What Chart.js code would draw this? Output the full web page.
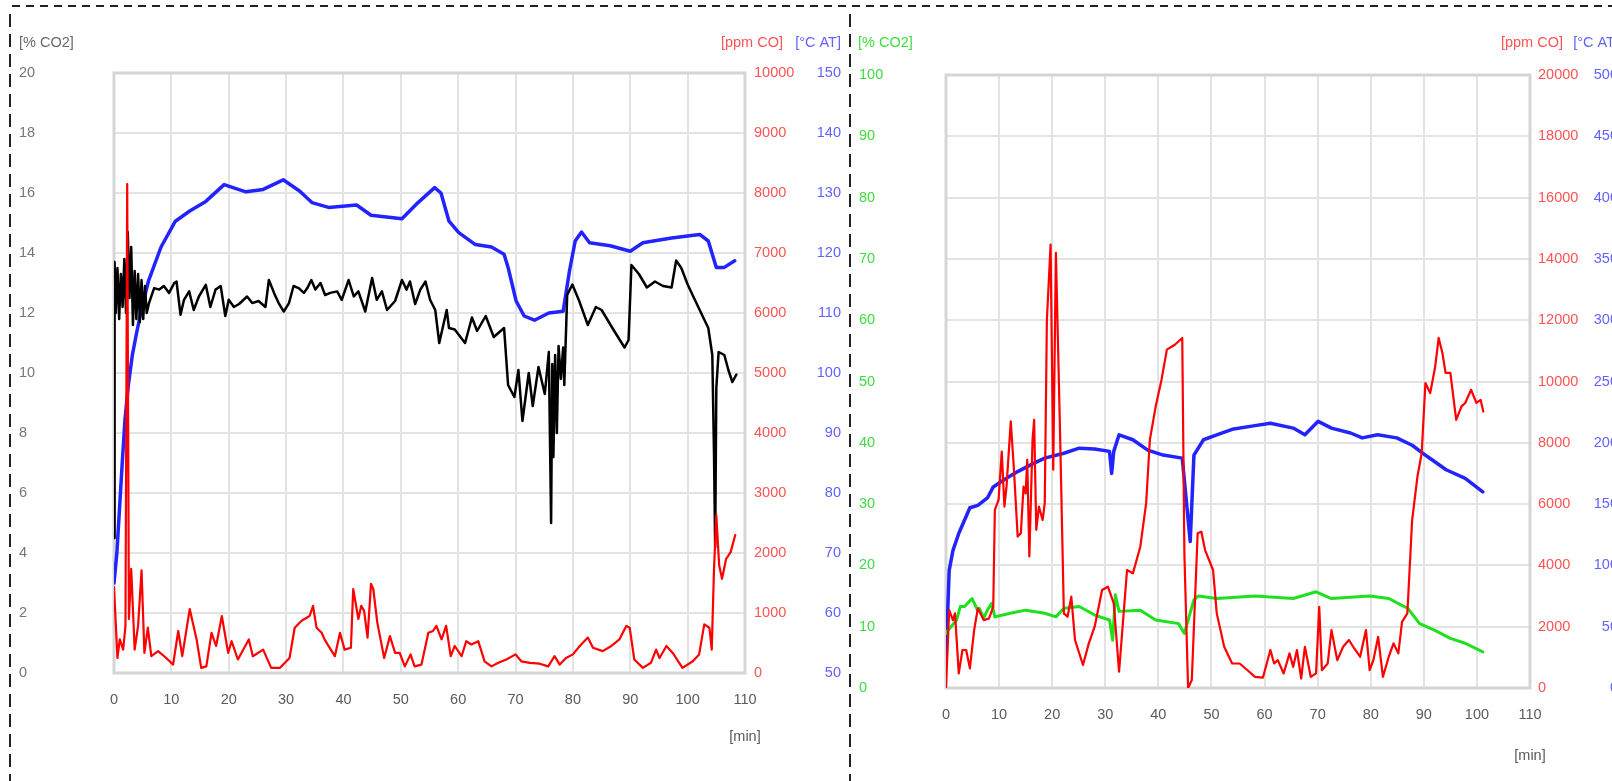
<!DOCTYPE html>
<html>
<head>
<meta charset="utf-8">
<title>CO2 / CO / AT</title>
<script src="https://cdn.jsdelivr.net/npm/chart.js@4.4.0/dist/chart.umd.min.js"></script>
<style>
  html, body { margin: 0; padding: 0; background: #fff; overflow: hidden; }
  body { width: 1612px; height: 781px; position: relative; }
  canvas { position: absolute; }
  #leftChart { left: 14px; top: 10px; }
  #rightChart { left: 852px; top: 10px; }
  .dash-h {
    position: absolute; left: 12px; top: 5px; width: 1600px; height: 2px;
    background: repeating-linear-gradient(to right, #222 0 8px, transparent 8px 14px);
  }
  .dash-v {
    position: absolute; top: 14px; width: 2px; height: 767px;
    background: repeating-linear-gradient(to bottom, #222 0 13px, transparent 13px 20px);
  }
</style>
</head>
<body>
<div class="dash-h"></div>
<div class="dash-v" style="left:9px"></div>
<div class="dash-v" style="left:849px"></div>
<canvas id="leftChart" width="834" height="771"></canvas>
<canvas id="rightChart" width="780" height="771"></canvas>
<script>
// ---- left unit: % CO2 (black), ppm CO (red), degC AT (blue) ----
const leftCO2Min = [0, 0.1, 0.3, 0.6, 0.9, 1.2, 1.5, 1.8, 2.1, 2.4, 2.7, 3.0, 3.3, 3.6, 3.9, 4.2, 4.5, 4.8, 5.1, 5.4, 5.7,
  6.1, 7, 7.9, 8.7, 9.6, 10.5, 10.9, 11.6, 12.2, 13.1, 13.9, 14.8, 16, 16.8, 17.7, 18.6, 19.4, 20, 20.9, 21.8,
  23.2, 24.1, 25.2, 26.4, 27, 27.9, 28.7, 29.6, 30.5, 31.3, 32.2, 33.1, 33.7, 34.4, 35.1, 36, 36.8, 37.7, 38.9, 39.7,
  40.9, 41.8, 42.6, 43.8, 45, 45.8, 46.7, 47.6, 49, 50.2, 51, 51.6, 52.5, 53.4, 54.3, 55.1, 56,
  56.7, 58, 58.4, 59.4, 61.2, 62.4, 63.3, 64.8, 66.2, 68, 68.7, 69.8, 70.5, 71.2, 72.3, 73, 74, 75.1, 75.8, 76.2,
  76.4, 76.6, 76.9, 77.2, 77.5, 77.9, 78.3, 78.5, 79, 79.9, 81.1, 82.6, 84, 85, 87.2, 89, 89.7, 90.2, 91.5, 92.9,
  94.3, 95.7, 97.2, 98, 98.9, 100, 102.1, 103.6, 104.3, 104.6, 104.8, 105, 105.4, 106.4, 107.1, 107.8, 108.5];
const leftCO2 = [4.5, 13.7, 12.0, 13.5, 11.8, 13.3, 12.2, 13.8, 12.0, 14.7, 12.5, 14.2, 11.6, 13.4, 11.8, 13.3, 11.7, 13.1, 11.8, 12.9, 12.0,
  12.33, 12.83, 12.78, 12.9, 12.67, 13.0, 13.05, 11.94, 12.44, 12.72, 12.1, 12.55, 12.94, 12.2, 12.78, 12.9, 11.9, 12.44, 12.2, 12.3,
  12.55, 12.33, 12.4, 12.2, 13.1, 12.67, 12.33, 12.05, 12.33, 12.9, 12.83, 12.67, 12.83, 13.1, 12.78, 13.0, 12.6, 12.67, 12.72, 12.44,
  13.1, 12.55, 12.72, 12.05, 13.17, 12.44, 12.72, 12.1, 12.4, 13.1, 12.78, 13.05, 12.3, 12.78, 13.05, 12.44, 12.1,
  11.0, 12.1, 11.5, 11.45, 11.0, 11.85, 11.4, 11.9, 11.2, 11.5, 9.6, 9.2, 10.1, 8.4, 10.0, 8.9, 10.2, 9.3, 10.7, 5.0,
  10.3, 7.2, 10.6, 8.0, 10.9, 9.8, 10.85, 9.6, 12.6, 12.95, 12.4, 11.6, 12.2, 12.1, 11.4, 10.85, 11.1, 13.6, 13.3, 12.85,
  13.05, 12.9, 12.85, 13.75, 13.5, 12.95, 12.1, 11.5, 10.6, 7.3, 4.2, 9.5, 10.7, 10.6, 10.1, 9.7, 9.95];

const leftCOMin = [0, 0.6, 1.0, 1.6, 2.0, 2.3, 2.6, 3.0, 3.6, 4.2, 4.8, 5.3, 5.9, 6.5, 7.7, 9.1, 10.3, 11.2, 11.9, 13.2,
  14.4, 15.2, 16.1, 17, 17.8, 18.8, 19.9, 20.5, 21.6, 23.5, 24.2, 26, 27.4, 28.9, 30.6, 31.5, 32.7, 34.1, 34.7, 35.3,
  36.2, 36.7, 37.6, 38.5, 39.4, 40.2, 41.3, 41.7, 42.6, 43.1, 43.6, 44.2, 44.8, 45.2, 45.9, 47.1, 48.1, 49, 49.8, 50.7,
  51.7, 52.4, 53.6, 54.8, 55.6, 56.2, 57.1, 57.9, 58.7, 59.4, 60.6, 61.4, 62.3, 63.5, 64.6, 65.8, 67, 68.4, 70, 71,
  72.5, 74.2, 75.7, 76.8, 77.7, 78.8, 80, 81.2, 82.6, 83.5, 85.2, 86.7, 88.1, 89.3, 89.9, 90.7, 92.2, 93.6, 94.5, 95.1,
  96.3, 97.4, 99.1, 100.9, 102, 102.9, 103.8, 104.2, 104.6, 105, 105.5, 106, 106.7, 107.5, 108.3];
const leftCO = [1430, 250, 560, 390, 785, 8150, 900, 1735, 390, 785, 1710, 335, 755, 280, 365, 250, 140, 700, 280, 1065,
  560, 85, 110, 670, 450, 950, 335, 530, 225, 560, 280, 390, 85, 85, 250, 755, 870, 950, 1120, 755,
  670, 560, 420, 280, 670, 390, 420, 1400, 900, 1120, 1035, 590, 1485, 1400, 840, 250, 615, 335, 335, 110,
  310, 110, 140, 670, 700, 785, 560, 785, 280, 450, 280, 530, 475, 530, 195, 110, 170, 225, 310, 195,
  170, 155, 110, 280, 140, 250, 310, 450, 590, 420, 365, 450, 560, 785, 755, 225, 85, 170, 390, 250,
  450, 335, 85, 195, 310, 810, 755, 390, 1735, 2630, 1790, 1570, 1900, 2015, 2300];

const leftATMin = [0, 0.5, 1.0, 1.5, 1.9, 2.5, 3.2, 3.9, 5, 6, 8.2, 10.7, 13.2, 16, 19.2, 21, 23, 26, 29.5, 32.4, 34.5,
  37.4, 42.3, 44.8, 50.2, 53, 55.9, 57, 58.4, 60.1, 63, 65.8, 68, 68.7, 70.1, 71.5, 73.3, 75.8, 78.3, 79.4, 80.4,
  81.5, 82.9, 86.5, 90, 92.2, 97.2, 102.1, 103.6, 105, 106.4, 108.2];
const leftAT = [65, 70, 78, 86, 92, 98, 103, 106.5, 111.5, 115.3, 121, 125.3, 127, 128.6, 131.4, 130.8, 130.2, 130.6, 132.2, 130.3, 128.4,
  127.6, 128, 126.3, 125.7, 128.4, 130.9, 130, 125.3, 123.4, 121.4, 121, 119.8, 117.6, 112, 109.5, 108.8, 110, 110.3, 117, 122,
  123.5, 121.7, 121.2, 120.3, 121.7, 122.5, 123.1, 122, 117.6, 117.6, 118.7];

// ---- right unit: % CO2 (green), ppm CO (red), degC AT (blue) ----
const rightCO2Min = [0, 0.2, 2, 2.7, 3.5, 4.9, 5.9, 6.3, 7.1, 7.8, 8.6, 9.2, 12.1, 15, 18.6, 20.7, 22.2, 25.1, 28, 30.8, 31.4,
  31.9, 32.6, 36.6, 39.5, 43.8, 44.9, 46.7, 47.5, 51, 58.2, 65.4, 69.7, 72.6, 79.8, 83.4, 85.6, 87, 89.2, 92.1, 95,
  97.8, 101.1];
const rightCO2 = [8.9, 9.2, 11.1, 13.3, 13.3, 14.6, 12.8, 13, 11.4, 12.7, 13.8, 11.6, 12.2, 12.7, 12.2, 11.6, 13, 13.3, 11.9, 11.1, 7.8,
  15.2, 12.5, 12.7, 11.1, 10.5, 8.9, 14.4, 15, 14.6, 15, 14.6, 15.7, 14.6, 15, 14.6, 13.6, 13, 10.5, 9.4, 8.1,
  7.3, 5.9];

const rightCOMin = [0, 0.6, 1.3, 1.7, 2.4, 3.1, 3.8, 4.5, 5.3, 6, 7.1, 8.1, 8.9, 9.2, 9.9, 10.5, 11, 11.4, 12.2, 12.8,
  13.5, 14.1, 14.6, 15, 15.3, 15.7, 16.3, 16.6, 17, 17.5, 18.2, 18.6, 19, 19.7, 20.2, 20.7, 21.5, 22.2, 22.9, 23.6,
  24.3, 25.8, 26.9, 28, 29.4, 30.5, 31.6, 32.6, 34.1, 35.2, 36.6, 37.7, 38.4, 39.5, 40.6, 41.6, 43.1, 44.5, 44.9, 45.6,
  46.3, 47.4, 48.1, 48.8, 50.3, 51, 52.4, 53.9, 55.3, 56.8, 58.2, 59.7, 61.1, 61.8, 62.5, 63.6, 64.7, 65.4, 66.1, 66.9,
  67.6, 68.7, 69.7, 70.3, 70.8, 71.9, 72.6, 73.7, 74.8, 75.9, 76.9, 78, 79.1, 79.8, 80.5, 81.4, 82.3, 83.4, 84.3, 85.2,
  85.9, 86.9, 87.8, 88.8, 89.6, 90.3, 91.2, 92.1, 92.8, 93.5, 94.1, 95, 96.1, 97.1, 97.8, 98.9, 99.9, 100.7, 101.2];
const rightCO = [0, 2540, 2215, 2435, 475, 1240, 1240, 640, 1890, 2600, 2215, 2270, 2650, 5810, 6140, 7715, 5920, 6570, 8700, 7120,
  4940, 5050, 6570, 6350, 7445, 4290, 8100, 8750, 5160, 5920, 5480, 6030, 12000, 14470, 7120, 14200, 8200, 2435, 2325, 2980,
  1565, 750, 1455, 2000, 3200, 3305, 2760, 530, 3850, 3740, 4610, 6030, 8100, 9190, 10060, 11040, 11200, 11420, 4400, 0,
  260, 5050, 5100, 4500, 3850, 2435, 1345, 800, 800, 580, 365, 340, 1240, 800, 910, 475, 1130, 690, 1240, 310,
  1345, 365, 475, 2650, 580, 800, 1890, 910, 1345, 1565, 1290, 1020, 1890, 580, 910, 1670, 365, 1020, 1455, 1130,
  2160, 2435, 5480, 6900, 7660, 9950, 9620, 10440, 11420, 10930, 10280, 10280, 8750, 9190, 9300, 9730, 9300, 9400, 9020];

const rightATMin = [0, 0.6, 1.3, 2.4, 4.5, 6, 7.8, 8.9, 11, 13.5, 16.4, 18.6, 22.2, 25.1, 28, 30.8, 31.2, 31.6, 32.6, 35.2,
  38, 40.9, 44.5, 46, 46.7, 48.5, 51, 53.9, 58.2, 61.1, 65.4, 67.6, 70.1, 72.6, 76.2, 78.4, 81.3, 84.9, 87.8, 90.6,
  94.2, 97.8, 101.1];
const rightAT = [24, 96, 112, 126, 147, 149, 155, 164, 170, 176.5, 183, 187.5, 191.5, 195.6, 195, 193, 175, 193, 206.5, 202.5,
  194, 190, 187.5, 119.5, 190, 202.5, 206.5, 211, 214, 216, 212, 206.5, 217.5, 212, 208, 204, 206.5, 204, 198, 189,
  178, 171, 160];

const FONT = "'Liberation Sans', Arial, sans-serif";
Chart.defaults.font.family = FONT;
Chart.defaults.font.size = 14.5;

const plain = v => String(v);
const series = (mins, vals) => mins.map((m, i) => ({ x: m, y: vals[i] }));

// light frame round the plot area
const plotFrame = {
  id: 'plotFrame',
  beforeDatasetsDraw(chart) {
    const { ctx, chartArea: a } = chart;
    ctx.save();
    ctx.strokeStyle = '#d5d5d5';
    ctx.lineWidth = 3;
    ctx.strokeRect(a.left, a.top, a.right - a.left, a.bottom - a.top);
    ctx.restore();
  }
};

// unit captions above the axes and [min] under the x axis
const unitLabels = {
  id: 'unitLabels',
  afterDraw(chart, args, opts) {
    const { ctx, chartArea: a } = chart;
    ctx.save();
    ctx.font = '14.5px ' + FONT;
    ctx.textBaseline = 'middle';
    opts.items.forEach(it => {
      const s = chart.scales[it.axis];
      ctx.fillStyle = it.color;
      ctx.textAlign = it.align;
      ctx.fillText(it.text, s[it.from] + it.dx, opts.top);
    });
    ctx.fillStyle = '#5a5a5a';
    ctx.textAlign = 'center';
    ctx.fillText('[min]', a.right, a.bottom + opts.minGap);
    ctx.restore();
  }
};

function xAxis(height) {
  return {
    type: 'linear', min: 0, max: 110,
    ticks: { stepSize: 10, color: '#5a5a5a', padding: 18, maxRotation: 0, autoSkip: false, callback: plain },
    grid: { color: '#e3e3e3', lineWidth: 2, drawTicks: false },
    border: { display: false },
    afterFit: s => { s.height = height; }
  };
}

function yAxis(position, min, max, step, color, align, pad, width, grid) {
  return {
    position, min, max,
    ticks: { stepSize: step, color, crossAlign: align, padding: pad, autoSkip: false, callback: plain },
    grid: grid ? { color: '#e3e3e3', lineWidth: 2, drawTicks: false } : { display: false, drawTicks: false },
    border: { display: false },
    afterFit: s => { s.width = width; }
  };
}

const lineOpts = { pointRadius: 0, tension: 0, borderJoinStyle: 'round', borderCapStyle: 'round', fill: false };

new Chart(document.getElementById('leftChart'), {
  type: 'line',
  data: {
    datasets: [
      { ...lineOpts, label: 'ppm CO', data: series(leftCOMin, leftCO), yAxisID: 'yCO', borderColor: '#ff0000', borderWidth: 2.2, order: 1 },
      { ...lineOpts, label: '% CO2', data: series(leftCO2Min, leftCO2), yAxisID: 'y', borderColor: '#000000', borderWidth: 2.5, order: 2 },
      { ...lineOpts, label: 'AT', data: series(leftATMin, leftAT), yAxisID: 'yAT', borderColor: '#2323ff', borderWidth: 3.5, order: 3 }
    ]
  },
  options: {
    responsive: false,
    animation: false,
    layout: { padding: { left: 5, right: 7, top: 63, bottom: 0 } },
    scales: {
      x: xAxis(108),
      y: yAxis('left', 0, 20, 2, '#767676', 'far', 0, 95, true),
      yCO: yAxis('right', 0, 10000, 1000, '#ff5252', 'near', 9, 50, false),
      yAT: yAxis('right', 50, 150, 10, '#6262ff', 'far', 0, 46, false)
    },
    plugins: {
      legend: { display: false },
      tooltip: { enabled: false },
      unitLabels: {
        top: 33, minGap: 64,
        items: [
          { text: '[% CO2]', color: '#6a6a6a', axis: 'y', from: 'left', dx: 0, align: 'left' },
          { text: '[ppm CO]', color: '#ff5252', axis: 'yCO', from: 'left', dx: 38, align: 'right' },
          { text: '[°C AT]', color: '#6262ff', axis: 'yAT', from: 'right', dx: 0, align: 'right' }
        ]
      }
    }
  },
  plugins: [plotFrame, unitLabels]
});

new Chart(document.getElementById('rightChart'), {
  type: 'line',
  data: {
    datasets: [
      { ...lineOpts, label: 'ppm CO', data: series(rightCOMin, rightCO), yAxisID: 'yCO', borderColor: '#ff0000', borderWidth: 2.2, order: 1 },
      { ...lineOpts, label: '% CO2', data: series(rightCO2Min, rightCO2), yAxisID: 'y', borderColor: '#1fe01f', borderWidth: 3, order: 2 },
      { ...lineOpts, label: 'AT', data: series(rightATMin, rightAT), yAxisID: 'yAT', borderColor: '#2323ff', borderWidth: 3.5, order: 3 }
    ]
  },
  options: {
    responsive: false,
    animation: false,
    layout: { padding: { left: 7, right: 14, top: 65, bottom: 0 } },
    scales: {
      x: xAxis(93),
      y: yAxis('left', 0, 100, 10, '#3fdc3f', 'far', 0, 87, true),
      yCO: yAxis('right', 0, 20000, 2000, '#ff5252', 'near', 8, 56, false),
      yAT: yAxis('right', 0, 500, 50, '#6262ff', 'far', 0, 32, false)
    },
    plugins: {
      legend: { display: false },
      tooltip: { enabled: false },
      unitLabels: {
        top: 33, minGap: 68,
        items: [
          { text: '[% CO2]', color: '#3fdc3f', axis: 'y', from: 'left', dx: -1, align: 'left' },
          { text: '[ppm CO]', color: '#ff5252', axis: 'yCO', from: 'left', dx: 33, align: 'right' },
          { text: '[°C AT]', color: '#6262ff', axis: 'yAT', from: 'right', dx: 1, align: 'right' }
        ]
      }
    }
  },
  plugins: [plotFrame, unitLabels]
});
</script>
</body>
</html>
